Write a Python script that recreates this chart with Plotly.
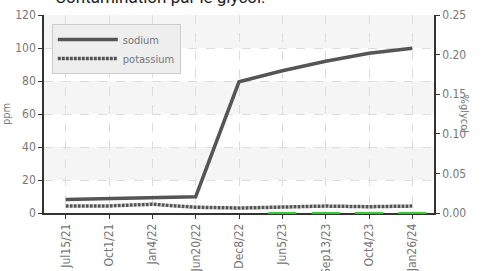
import plotly.graph_objects as go

dates = ["Jul15/21", "Oct1/21", "Jan4/22", "Jun20/22", "Dec8/22", "Jun5/23", "Sep13/23", "Oct4/23", "Jan26/24"]
sodium = [8.2, 8.8, 9.4, 9.9, 79.5, 86.2, 92.0, 96.8, 99.8]
potassium = [4.2, 4.3, 5.3, 3.5, 3.0, 3.5, 4.2, 3.8, 4.2]
glycol = [None, None, None, None, None, 0.0, 0.0, 0.0, 0.0]

FONT = "DejaVu Sans Condensed, Liberation Sans Narrow, sans-serif"
fig = go.Figure()

# alternating bands
for y0, y1 in [(20, 40), (60, 80), (100, 120)]:
    fig.add_shape(type="rect", xref="paper", yref="y", x0=0, x1=1, y0=y0, y1=y1,
                  fillcolor="#f5f5f5", line_width=0, layer="below")

fig.add_trace(go.Scatter(x=dates, y=sodium, name="sodium", mode="lines",
                         line=dict(color="#555555", width=3.5)))
fig.add_trace(go.Scatter(x=dates, y=potassium, name="potassium", mode="lines",
                         line=dict(color="#555555", width=3.5, dash="3px,1px")))
fig.add_trace(go.Scatter(x=dates, y=glycol, name="glycol", mode="markers", yaxis="y2",
                         showlegend=False, cliponaxis=False,
                         marker=dict(symbol="line-ew", size=20, line=dict(color="#33cc33", width=2))))

fig.update_layout(
    width=483, height=271,
    margin=dict(l=44, r=49, t=15, b=58),
    paper_bgcolor="white", plot_bgcolor="white",
    font=dict(family=FONT, color="#777777", size=12),
    showlegend=True,
    legend=dict(x=0.02, y=0.955, xanchor="left", yanchor="top",
                bgcolor="#eeeeee", bordercolor="#cccccc", borderwidth=1,
                font=dict(size=11, color="#777777"), tracegroupgap=0,
                itemwidth=60),
    xaxis=dict(type="category", range=[-0.5, 8.5], showgrid=True, automargin=False,
               gridcolor="#dddddd", griddash="dash", gridwidth=1,
               showline=True, linecolor="#333333", linewidth=1.5,
               ticks="outside", ticklen=4, tickcolor="#333333", layer="below traces",
               tickangle=-90, tickfont=dict(size=12, color="#777777")),
    yaxis=dict(range=[0, 120], dtick=20, showgrid=True, gridcolor="#dddddd", automargin=False,
               griddash="dash", zeroline=False,
               showline=True, linecolor="#333333", linewidth=1.5,
               ticks="outside", ticklen=4, tickcolor="#333333",
               title=dict(text="ppm", font=dict(size=11, color="#777777"), standoff=6),
               tickfont=dict(size=12, color="#777777")),
    yaxis2=dict(range=[0, 0.25], dtick=0.05, tickformat=".2f", overlaying="y", side="right",
                showgrid=False, zeroline=False, automargin=False,
                showline=True, linecolor="#333333", linewidth=1.5,
                ticks="outside", ticklen=4, tickcolor="#333333",
                tickfont=dict(size=12, color="#777777")),
)

fig.add_annotation(text="%glycol", xref="paper", yref="paper", x=1.1, y=0.5,
                   textangle=90, showarrow=False, font=dict(size=11, color="#777777"))
fig.add_annotation(text="Contamination par le glycol.", xref="paper", yref="paper",
                   x=0.023, y=1.03, xanchor="left", yanchor="bottom", showarrow=False,
                   font=dict(size=17, color="#222222", family="Roboto, sans-serif"))

fig.write_html("out.html", config={"displayModeBar": False},
               post_script="document.body.style.margin='0';")
